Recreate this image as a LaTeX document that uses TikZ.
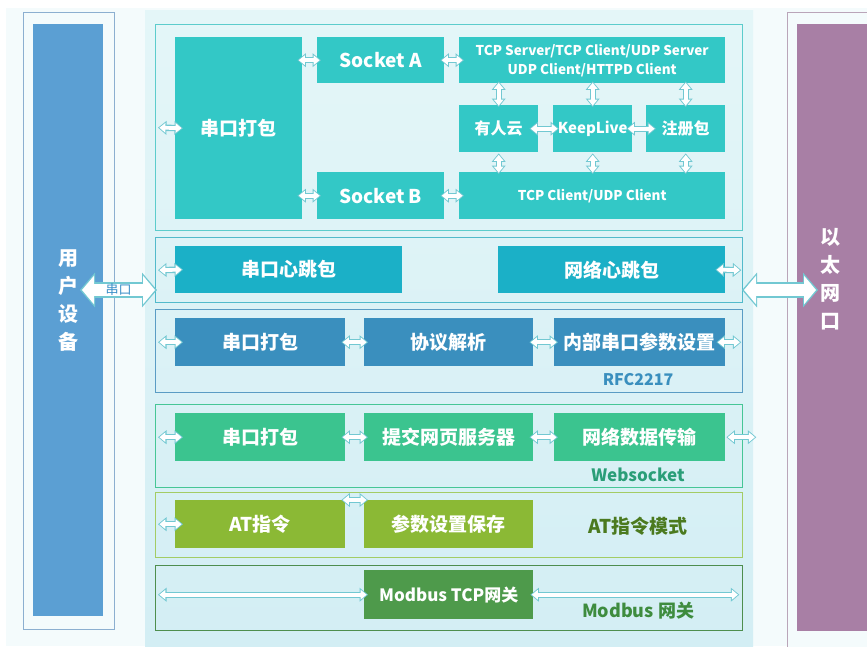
\documentclass[tikz,border=0pt]{standalone}
\usepackage{fontspec}
\setmainfont{Noto Sans CJK SC}
\usetikzlibrary{arrows.meta}
\definecolor{pagebg}{HTML}{F4FBFC}
\definecolor{paneltop}{HTML}{E4F6F8}
\definecolor{panelbot}{HTML}{D3EEF4}
\definecolor{userblue}{HTML}{5B9FD3}
\definecolor{userline}{HTML}{8CAFD0}
\definecolor{ethpurple}{HTML}{A87FA5}
\definecolor{ethline}{HTML}{BAA5B9}
\definecolor{socketc}{HTML}{33C8C6}
\definecolor{socketl}{HTML}{5CCCCC}
\definecolor{beatc}{HTML}{1BB0C7}
\definecolor{beatl}{HTML}{52BACB}
\definecolor{rfcc}{HTML}{3A8FBE}
\definecolor{rfcl}{HTML}{5A9CC4}
\definecolor{webc}{HTML}{3BC48F}
\definecolor{webl}{HTML}{46C696}
\definecolor{webt}{HTML}{2A9E78}
\definecolor{atc}{HTML}{8BB935}
\definecolor{atl}{HTML}{A3CC64}
\definecolor{att}{HTML}{4B7A1F}
\definecolor{modc}{HTML}{4E9A4B}
\definecolor{modl}{HTML}{4E8E4E}
\definecolor{modt}{HTML}{3E8C3E}
\definecolor{arrline}{HTML}{72C8D2}
\definecolor{sklabel}{HTML}{3A8FC8}

\begin{document}
\begin{tikzpicture}[x=1pt,y=-1pt,
  box/.style={fill=#1,text=white,inner sep=0pt,anchor=north west,font=\fontsize{19}{23}\selectfont\bfseries},
  frame/.style={draw=#1,line width=1.3pt,inner sep=0pt,anchor=north west},
  tag/.style={text=#1,font=\fontsize{17}{20}\selectfont\bfseries},
  vtext/.style={text=white,align=center,font=\fontsize{20}{28}\selectfont\bfseries},
  duplex/.style={draw=white,line width=3.7pt,{Triangle[length=6pt,width=9.5pt]}-{Triangle[length=6pt,width=9.5pt]},shorten <=1.4pt,shorten >=1.4pt,
    preaction={draw=arrline,line width=6.4pt,{Triangle[length=8.5pt,width=13.5pt]}-{Triangle[length=8.5pt,width=13.5pt]},shorten <=0pt,shorten >=0pt}},
  wideduplex/.style={draw=white,line width=12pt,{Triangle[length=12pt,width=28pt]}-{Triangle[length=12pt,width=28pt]},shorten <=2pt,shorten >=2pt,
    preaction={draw=arrline,line width=16pt,{Triangle[length=15pt,width=34pt]}-{Triangle[length=15pt,width=34pt]},shorten <=0pt,shorten >=0pt}}]
\useasboundingbox (0,0) rectangle (867,646);
\fill[white] (0,0) rectangle (867,646);
\fill[pagebg] (6,8) rectangle (867,646);
\shade[top color=paneltop,bottom color=panelbot] (145,10) rectangle (753,646);

\node[frame=userline,fill=pagebg,minimum width=91pt,minimum height=617pt] (userframe) at (23,12) {};
\node[box=userblue,minimum width=70pt,minimum height=592pt] (userdev) at (33,24) {};
\node[vtext] (userlab) at (68,301) {用\\户\\设\\备};
\node[frame=ethline,fill=pagebg,minimum width=90pt,minimum height=640pt] (ethframe) at (787,12) {};
\node[box=ethpurple,minimum width=75pt,minimum height=607pt] (ethport) at (797,24) {};
\node[vtext] (ethlab) at (830,279) {以\\太\\网\\口};

\node[frame=socketl,minimum width=587pt,minimum height=206pt] (secsock) at (155,24) {};
\node[box=socketc,minimum width=127pt,minimum height=182pt] (pkA) at (175,37) {串口打包};
\node[box=socketc,minimum width=127pt,minimum height=46pt] (sockA) at (317,37) {Socket A};
\node[box=socketc,minimum width=266pt,minimum height=46pt,align=center,font=\fontsize{13.5}{19}\selectfont\bfseries] (tcpall) at (459,37) {TCP Server/TCP Client/UDP Server\\UDP Client/HTTPD Client};
\node[box=socketc,minimum width=79pt,minimum height=47pt,font=\fontsize{16}{19}\selectfont\bfseries] (yrcloud) at (459,105) {有人云};
\node[box=socketc,minimum width=79pt,minimum height=47pt,font=\fontsize{15}{18}\selectfont\bfseries] (keeplive) at (553,105) {KeepLive};
\node[box=socketc,minimum width=79pt,minimum height=47pt,font=\fontsize{16}{19}\selectfont\bfseries] (regpkt) at (646,105) {注册包};
\node[box=socketc,minimum width=127pt,minimum height=47pt] (sockB) at (317,172) {Socket B};
\node[box=socketc,minimum width=266pt,minimum height=47pt,font=\fontsize{13.5}{19}\selectfont\bfseries] (tcpcli) at (459,172) {TCP Client/UDP Client};

\node[frame=beatl,minimum width=587pt,minimum height=65pt] (secbeat) at (155,237) {};
\node[box=beatc,minimum width=227pt,minimum height=47pt] (hbser) at (175,246) {串口心跳包};
\node[box=beatc,minimum width=227pt,minimum height=47pt] (hbnet) at (498,246) {网络心跳包};

\node[frame=rfcl,minimum width=587pt,minimum height=83pt] (secrfc) at (155,309) {};
\node[box=rfcc,minimum width=170pt,minimum height=48pt] (rfcpk) at (175,318) {串口打包};
\node[box=rfcc,minimum width=169pt,minimum height=48pt] (rfcparse) at (364,318) {协议解析};
\node[box=rfcc,minimum width=171pt,minimum height=48pt] (rfcset) at (554,318) {内部串口参数设置};
\node[tag=rfcc,font=\fontsize{16}{19}\selectfont\bfseries] (rfctag) at (638,380) {RFC2217};

\node[frame=webl,minimum width=587pt,minimum height=83pt] (secws) at (155,404) {};
\node[box=webc,minimum width=170pt,minimum height=48pt] (wspk) at (175,413) {串口打包};
\node[box=webc,minimum width=169pt,minimum height=48pt] (wsweb) at (364,413) {提交网页服务器};
\node[box=webc,minimum width=171pt,minimum height=48pt] (wsnet) at (554,413) {网络数据传输};
\node[tag=webt] (wstag) at (638,475) {Websocket};

\node[frame=atl,minimum width=587pt,minimum height=65pt] (secat) at (155,492) {};
\node[box=atc,minimum width=170pt,minimum height=48pt] (atcmd) at (175,500) {AT指令};
\node[box=atc,minimum width=169pt,minimum height=48pt] (atsave) at (364,500) {参数设置保存};
\node[tag=att,font=\fontsize{19}{22}\selectfont\bfseries] (attag) at (638,526) {AT指令模式};

\node[frame=modl,minimum width=587pt,minimum height=65pt] (secmb) at (155,565) {};
\node[box=modc,minimum width=169pt,minimum height=49pt,font=\fontsize{17}{20}\selectfont\bfseries] (mbgw) at (364,570) {Modbus TCP网关};
\node[tag=modt,font=\fontsize{18}{21}\selectfont\bfseries] (mbtag) at (638,611) {Modbus 网关};

\coordinate (userend) at (80,290);
\coordinate (beatin) at (157,290);
\coordinate (beatout) at (742,290);
\coordinate (ethend) at (818,290);
\draw[wideduplex] (userend) -- (beatin) node[midway,text=sklabel,font=\fontsize{13}{15}\selectfont] (sklab) {串口};
\draw[wideduplex] (beatout) -- (ethend);

\draw[duplex] ([xshift=3pt]secsock.west) -- ([xshift=8pt]pkA.west);
\draw[duplex] ([xshift=-5pt]pkA.east |- sockA.west) -- ([xshift=4pt]sockA.west);
\draw[duplex] ([xshift=-4pt]sockA.east) -- ([xshift=5pt]tcpall.west);
\draw[duplex] ([xshift=-5pt]pkA.east |- sockB.west) -- ([xshift=4pt]sockB.west);
\draw[duplex] ([xshift=-4pt]sockB.east) -- ([xshift=5pt]tcpcli.west);
\draw[duplex] ([yshift=2pt]yrcloud.north |- tcpall.south) -- ([yshift=-2pt]yrcloud.north);
\draw[duplex] ([yshift=2pt]keeplive.north |- tcpall.south) -- ([yshift=-2pt]keeplive.north);
\draw[duplex] ([yshift=2pt]regpkt.north |- tcpall.south) -- ([yshift=-2pt]regpkt.north);
\draw[duplex] ([yshift=-1pt]yrcloud.south) -- ([yshift=-2pt]yrcloud.south |- tcpcli.north);
\draw[duplex] ([yshift=-1pt]keeplive.south) -- ([yshift=-2pt]keeplive.south |- tcpcli.north);
\draw[duplex] ([yshift=-1pt]regpkt.south) -- ([yshift=-2pt]regpkt.south |- tcpcli.north);
\draw[duplex] ([xshift=-9pt]yrcloud.east) -- ([xshift=6pt]keeplive.west);
\draw[duplex] ([xshift=-6pt]keeplive.east) -- ([xshift=10pt]regpkt.west);

\draw[duplex] ([xshift=3pt]secbeat.west) -- ([xshift=8pt]hbser.west);
\draw[duplex] ([xshift=-10pt]hbnet.east) -- ([xshift=-2pt]secbeat.east);

\draw[duplex] ([xshift=3pt]secrfc.west |- rfcpk.west) -- ([xshift=8pt]rfcpk.west);
\draw[duplex] ([xshift=-4pt]rfcpk.east) -- ([xshift=4pt]rfcparse.west);
\draw[duplex] ([xshift=-4pt]rfcparse.east) -- ([xshift=4pt]rfcset.west);
\draw[duplex] ([xshift=-9pt]rfcset.east) -- ([xshift=-2pt]secrfc.east |- rfcset.east);

\draw[duplex] ([xshift=3pt]secws.west |- wspk.west) -- ([xshift=8pt]wspk.west);
\draw[duplex] ([xshift=-4pt]wspk.east) -- ([xshift=4pt]wsweb.west);
\draw[duplex] ([xshift=-4pt]wsweb.east) -- ([xshift=4pt]wsnet.west);
\draw[duplex] ([xshift=1pt]wsnet.east) -- ([xshift=13pt]secws.east |- wsnet.east);

\draw[duplex] ([xshift=3pt]secat.west |- atcmd.west) -- ([xshift=8pt]atcmd.west);
\draw[duplex] ([xshift=-4pt]atcmd.north east) -- ([xshift=4pt]atsave.north west);

\draw[duplex] ([xshift=3pt]secmb.west |- mbgw.west) -- ([xshift=4pt]mbgw.west);
\draw[duplex] ([xshift=-3pt]mbgw.east) -- ([xshift=-4pt]secmb.east |- mbgw.east);

\end{tikzpicture}
\end{document}
